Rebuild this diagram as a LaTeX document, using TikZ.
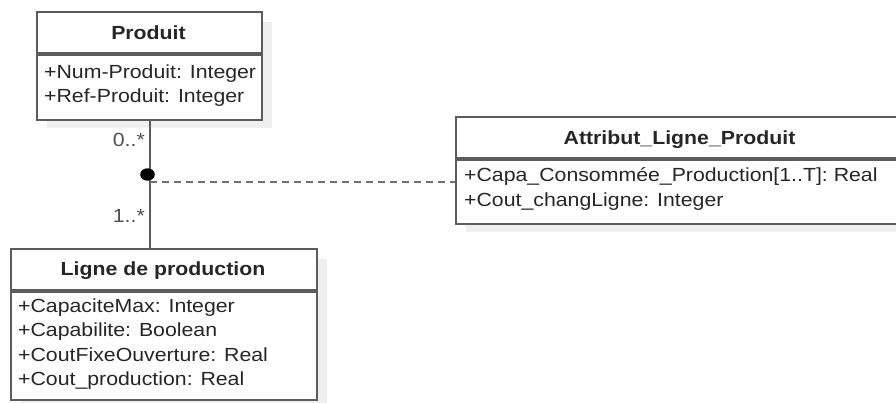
\documentclass[tikz,border=0pt]{standalone}
\usepackage{fontspec}
\setmainfont{Liberation Sans}[FakeStretch=1.12]
\begin{document}
\begin{tikzpicture}[x=1pt,y=-1pt,
  box/.style={draw=boxc, line width=2pt, fill=white},
  hdr/.style={text=txtc, font=\fontsize{19}{22}\selectfont\bfseries, inner sep=0pt, anchor=base},
  attr/.style={text=txtc, font=\fontsize{19}{22}\selectfont, inner sep=0pt, anchor=base west},
  mult/.style={text=multc, font=\fontsize{19}{22}\selectfont, inner sep=0pt, anchor=base east},
  assocline/.style={draw=boxc, line width=2pt},
  dashline/.style={draw=dashc, line width=2pt, dash pattern=on 6.5pt off 5.5pt}
]
\definecolor{boxc}{HTML}{5C5C5C}
\definecolor{txtc}{HTML}{262626}
\definecolor{multc}{HTML}{505050}
\definecolor{dashc}{HTML}{707070}
\definecolor{shadowc}{HTML}{EFEFEF}
\useasboundingbox (0,0) rectangle (896,402);
\clip (0,0) rectangle (896,402);
\fill[white] (0,0) rectangle (896,402);
% shadows
\fill[shadowc] (47,22) rectangle (272,128);
\fill[shadowc] (466,127) rectangle (915,232);
\fill[shadowc] (21,259) rectangle (327,408);
% Produit
\node[box, minimum width=225pt, minimum height=41pt, anchor=north west] (prodh) at (36,11) {};
\node[box, minimum width=225pt, minimum height=65pt, anchor=north west] (prodb) at (prodh.south west) {};
\node[hdr] (prodt) at (148.5,39) {Produit};
\node[attr] (p1) at (44,78) {+Num-Produit: Integer};
\node[attr] (p2) at (44,102.5) {+Ref-Produit: Integer};
% Attribut
\node[box, minimum width=449pt, minimum height=41pt, anchor=north west] (attrh) at (455,116) {};
\node[box, minimum width=449pt, minimum height=64pt, anchor=north west] (attrb) at (attrh.south west) {};
\node[hdr] (attrt) at (679.5,144) {Attribut\_Ligne\_Produit};
\node[attr] (a1) at (464,181.7) {+Capa\_Consommée\_Production[1..T]: Real};
\node[attr] (a2) at (464,206) {+Cout\_changLigne: Integer};
% Ligne
\node[box, minimum width=306pt, minimum height=41pt, anchor=north west] (ligh) at (10,248) {};
\node[box, minimum width=306pt, minimum height=108pt, anchor=north west] (ligb) at (ligh.south west) {};
\node[hdr] (ligt) at (163,275) {Ligne de production};
\node[attr] (l1) at (18,312.5) {+CapaciteMax: Integer};
\node[attr] (l2) at (18,336.8) {+Capabilite: Boolean};
\node[attr] (l3) at (18,361) {+CoutFixeOuverture: Real};
\node[attr] (l4) at (18,385.2) {+Cout\_production: Real};
% association
\coordinate (assoc) at (150,181.7);
\draw[assocline] (prodb.south -| assoc) -- (ligh.north -| assoc);
\draw[dashline] (assoc) -- (assoc -| attrb.west);
\fill[black] (147.5,174.5) ellipse [x radius=7.3pt, y radius=6.2pt];
\node[mult] (m0) at (145,146) {0..*};
\node[mult] (m1) at (145,222.5) {1..*};
\end{tikzpicture}
\end{document}
